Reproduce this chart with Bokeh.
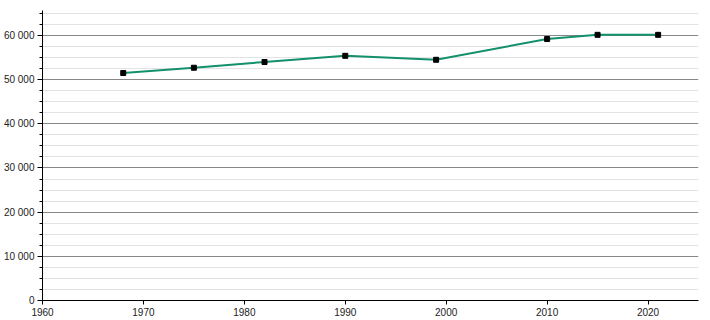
from bokeh.plotting import figure
from bokeh.models import SingleIntervalTicker, CustomJSTickFormatter, Range1d
from bokeh.embed import file_html
from bokeh.resources import INLINE

years = [1968, 1975, 1982, 1990, 1999, 2010, 2015, 2021]
population = [51500, 52700, 54000, 55400, 54500, 59200, 60150, 60150]

p = figure(width=710, height=320, output_backend="svg", toolbar_location=None,
           x_range=Range1d(1960, 2025), y_range=Range1d(0, 65660),
           min_border_left=42, min_border_right=12, min_border_top=10, min_border_bottom=20)
p.outline_line_color = None
p.background_fill_color = "white"

p.xaxis.ticker = SingleIntervalTicker(interval=10, num_minor_ticks=0)
p.yaxis.ticker = SingleIntervalTicker(interval=10000, num_minor_ticks=4)
p.yaxis.formatter = CustomJSTickFormatter(code="""
var s = Math.round(tick).toString();
return s.replace(/\\B(?=(\\d{3})+(?!\\d))/g, ' ');
""")

for ax in (p.xaxis[0], p.yaxis[0]):
    ax.axis_line_color = "black"
    ax.axis_line_width = 1
    ax.major_tick_line_color = "black"
    ax.minor_tick_line_color = "black"
    ax.major_tick_in = 0
    ax.minor_tick_in = 0
    ax.major_label_text_font = "Liberation Sans"
    ax.major_label_text_font_size = "10px"
    ax.major_label_text_color = "#222222"
    ax.major_label_standoff = 3
p.xaxis.major_tick_out = 4
p.yaxis.major_tick_out = 5
p.yaxis.minor_tick_out = 3

p.xgrid.grid_line_color = None
p.ygrid.ticker = SingleIntervalTicker(interval=10000, num_minor_ticks=4)
p.ygrid.grid_line_color = "#888888"
p.ygrid.grid_line_width = 1
p.ygrid.minor_grid_line_color = "#e3e3e3"
p.ygrid.minor_grid_line_width = 1

p.line(years, population, line_color="#13906c", line_width=2)
p.scatter(years, population, marker="square", size=5, fill_color="black", line_color="black")

open("out.html", "w").write(file_html(p, INLINE))
